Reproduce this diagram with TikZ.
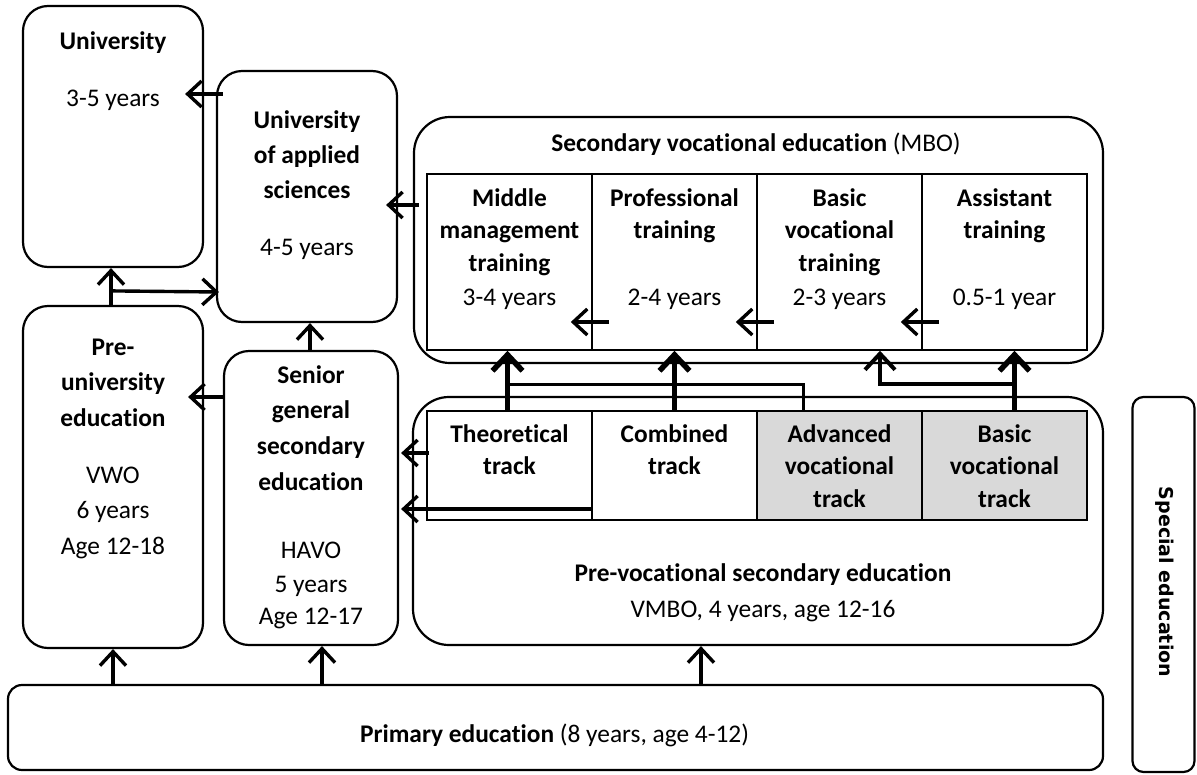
\documentclass[tikz,border=0pt]{standalone}
\usepackage{fontspec}
\setmainfont{Carlito}[Ligatures={NoCommon}]
\newfontfamily\specfont{DejaVu Sans}
\usetikzlibrary{arrows.meta,calc}
\definecolor{trackgray}{HTML}{D9D9D9}
\begin{document}
\begin{tikzpicture}[x=1pt,y=-1pt,
  box/.style={draw, line width=2.2pt, inner sep=0pt},
  cell/.style={draw, line width=1.6pt, inner sep=0pt, minimum width=165pt},
  lbl/.style={anchor=base, inner sep=0pt, font=\fontsize{25.4}{30}\selectfont},
  blbl/.style={anchor=base, inner sep=0pt, font=\fontsize{25.4}{30}\selectfont\bfseries},
  thinarr/.style={line width=3.4pt, -{Straight Barb[length=14pt,width=26pt]}},
  thickarr/.style={line width=5.5pt, -{Straight Barb[length=16pt,width=30pt]}},
  medarr/.style={line width=4pt, -{Straight Barb[length=16pt,width=30pt]}},
]
\useasboundingbox (0,0) rectangle (1197,774);

% ---------- boxes ----------
\node[box, rounded corners=25pt, minimum width=180pt, minimum height=261pt] (uni) at (113,136.5) {};
\node[box, rounded corners=25pt, minimum width=180pt, minimum height=251pt] (uas) at (307,196.5) {};
\node[box, rounded corners=25pt, minimum width=180pt, minimum height=342pt] (preu) at (113,477) {};
\node[box, rounded corners=25pt, minimum width=174pt, minimum height=294pt] (ssec) at (311,498) {};
\node[box, rounded corners=36pt, minimum width=689pt, minimum height=246pt] (mbo) at (758.5,240) {};
\node[box, rounded corners=36pt, minimum width=690pt, minimum height=248pt] (vmbo) at (758,521) {};
\node[box, rounded corners=14pt, minimum width=1095pt, minimum height=85pt] (prim) at (555.5,727.5) {};
\node[box, rounded corners=11pt, minimum width=62pt, minimum height=375pt] (spec) at (1163.5,584.5) {};

% MBO cells
\node[cell, minimum height=176pt] (mm) at (509.5,262) {};
\node[cell, minimum height=176pt] (pt) at (674.5,262) {};
\node[cell, minimum height=176pt] (bv) at (839.5,262) {};
\node[cell, minimum height=176pt] (at) at (1004.5,262) {};
% VMBO cells
\node[cell, minimum height=109pt] (tt) at (509.5,465.5) {};
\node[cell, minimum height=109pt] (ct) at (674.5,465.5) {};
\node[cell, minimum height=109pt, fill=trackgray] (avt) at (839.5,465.5) {};
\node[cell, minimum height=109pt, fill=trackgray] (bvt) at (1004.5,465.5) {};

% ---------- texts ----------
\node[blbl] (uni1) at (113,49) {University};
\node[lbl]  (uni2) at (113,106) {3-5 years};

\node[blbl] (uas1) at (307,128) {University};
\node[blbl] (uas2) at (307,163) {of applied};
\node[blbl] (uas3) at (307,198) {sciences};
\node[lbl]  (uas4) at (307,255) {4-5 years};

\node[blbl] (pu1) at (113,355) {Pre-};
\node[blbl] (pu2) at (113,390.5) {university};
\node[blbl] (pu3) at (113,426) {education};
\node[lbl]  (pu4) at (113,483) {VWO};
\node[lbl]  (pu5) at (113,518.5) {6 years};
\node[lbl]  (pu6) at (113,554) {Age 12-18};

\node[blbl] (sg1) at (311,383) {Senior};
\node[blbl] (sg2) at (311,418.5) {general};
\node[blbl] (sg3) at (311,454.5) {secondary};
\node[blbl] (sg4) at (311,490.5) {education};
\node[lbl]  (sg5) at (311,558) {HAVO};
\node[lbl]  (sg6) at (311,592) {5 years};
\node[lbl]  (sg7) at (311,624.5) {Age 12-17};

\node[lbl] (mbot) at (756,151) {\textbf{Secondary vocational education} (MBO)};

\node[blbl] (mm1) at (509.5,206) {Middle};
\node[blbl] (mm2) at (509.5,238.5) {management};
\node[blbl] (mm3) at (509.5,271) {training};
\node[lbl]  (mm4) at (509.5,305) {3-4 years};

\node[blbl] (pt1) at (674.5,206) {Professional};
\node[blbl] (pt2) at (674.5,238.5) {training};
\node[lbl]  (pt4) at (674.5,305) {2-4 years};

\node[blbl] (bv1) at (839.5,206) {Basic};
\node[blbl] (bv2) at (839.5,238.5) {vocational};
\node[blbl] (bv3) at (839.5,271) {training};
\node[lbl]  (bv4) at (839.5,305) {2-3 years};

\node[blbl] (at1) at (1004.5,206) {Assistant};
\node[blbl] (at2) at (1004.5,238.5) {training};
\node[lbl]  (at4) at (1004.5,305) {0.5-1 year};

\node[blbl] (tt1) at (509.5,442) {Theoretical};
\node[blbl] (tt2) at (509.5,474) {track};
\node[blbl] (ct1) at (674.5,442) {Combined};
\node[blbl] (ct2) at (674.5,474) {track};
\node[blbl] (av1) at (839.5,442) {Advanced};
\node[blbl] (av2) at (839.5,474.5) {vocational};
\node[blbl] (av3) at (839.5,507) {track};
\node[blbl] (bt1) at (1004.5,442) {Basic};
\node[blbl] (bt2) at (1004.5,474.5) {vocational};
\node[blbl] (bt3) at (1004.5,507) {track};

\node[blbl] (vm1) at (763,581) {Pre-vocational secondary education};
\node[lbl]  (vm2) at (763,617) {VMBO, 4 years, age 12-16};

\node[lbl] (primt) at (554.5,742) {\textbf{Primary education} (8 years, age 4-12)};

\node[anchor=base, inner sep=0pt, rotate=-90, font=\specfont\bfseries\fontsize{19}{22}\selectfont] (spect) at (1159.5,582) {Special education};

% ---------- connectors ----------
\draw[thinarr] ($(uas.west)+(7,-102.5)$) -- ($(uni.east)+(-19,-42.5)$);
\draw[thinarr] ($(preu.north)+(-2,0)$) -- ($(uni.south)+(-2,0)$);
\draw[thinarr] ($(preu.north)+(-2,-14)$) -- ($(uas.west)+(3,95.5)$);
\draw[thinarr] ($(ssec.west)+(2,-101)$) -- ($(preu.east)+(-16,-80)$);
\draw[thinarr] ($(ssec.north)+(-1,0)$) -- ($(uas.south)+(3,0)$);
\draw[thinarr] (preu.south |- prim.north) -- (preu.south);
\draw[thinarr] ($(ssec.south |- prim.north)+(11,0)$) -- ($(ssec.south)+(11,0)$);
\draw[thinarr] ($(vmbo.south |- prim.north)+(-57,0)$) -- ($(vmbo.south)+(-57,0)$);
\draw[thinarr] ($(mbo.west)+(6,-35)$) -- ($(uas.east)+(-12,8.5)$);
\draw[thinarr] ($(pt.west)+(18,60)$) -- ($(mm.east)+(-22,60)$);
\draw[thinarr] ($(bv.west)+(18,60)$) -- ($(pt.east)+(-22,60)$);
\draw[thinarr] ($(at.west)+(18,60)$) -- ($(bv.east)+(-22,60)$);
\draw[thinarr] ($(tt.west)+(3,-12.5)$) -- ($(ssec.east)+(2,-45)$);
\draw[thinarr] ($(ct.west)+(0,43.5)$) -- ($(ssec.east)+(2,11)$);

\draw[thickarr] ($(tt.north)+(-2,0)$) -- ($(mm.south)+(-2,0)$);
\draw[thickarr] (ct.north) -- (pt.south);
\draw[thickarr] ($(bvt.north)+(10,0)$) -- ($(at.south)+(10,0)$);
\draw[medarr] ($(bvt.north)+(10,-26)$) -| ($(bv.south)+(40.5,0)$);
\draw[line width=3pt] ($(avt.north)+(-36.5,0)$) |- ($(tt.north)+(-2,-26)$);
\end{tikzpicture}
\end{document}
